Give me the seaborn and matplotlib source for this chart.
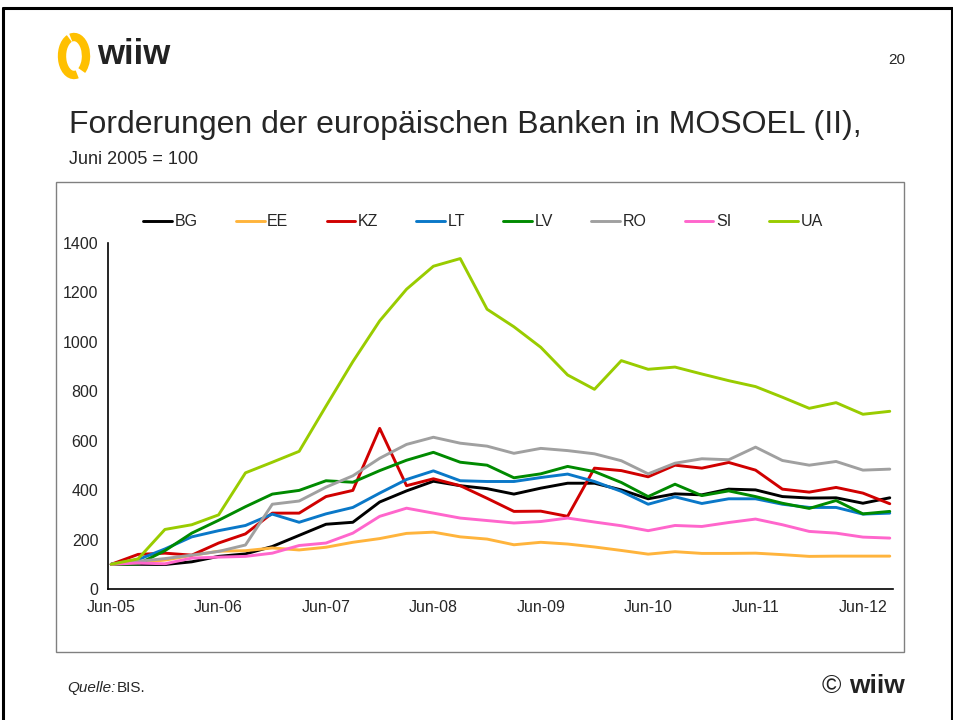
import matplotlib
matplotlib.use("Agg")
import numpy as np
import pandas as pd
import matplotlib.pyplot as plt
import seaborn as sns
from matplotlib.patches import Rectangle, Arc
from matplotlib.lines import Line2D

# quarterly index, Jun-05 .. Sep-12 (Juni 2005 = 100)
quarters = list(range(30))
tick_labels = ["Jun-05", "Jun-06", "Jun-07", "Jun-08", "Jun-09", "Jun-10", "Jun-11", "Jun-12"]

BG = [100, 100, 99, 110, 132, 142, 172, 217, 262, 270, 352, 397, 436, 418, 406,
      384, 408, 428, 428, 401, 365, 385, 381, 404, 401, 374, 368, 369, 347, 369]
EE = [100, 107, 117, 136, 153, 155, 166, 158, 169, 189, 204, 225, 230, 211, 202,
      179, 189, 182, 170, 156, 141, 151, 144, 144, 145, 139, 132, 133, 133, 133]
KZ = [100, 140, 145, 137, 186, 223, 307, 307, 374, 399, 650, 418, 446, 418, 367,
      314, 315, 294, 489, 479, 454, 501, 489, 512, 481, 404, 392, 411, 388, 345]
LT = [100, 119, 162, 211, 236, 257, 303, 270, 304, 330, 388, 443, 478, 438, 435,
      435, 451, 465, 435, 395, 343, 373, 346, 365, 365, 343, 330, 330, 303, 307]
LV = [100, 101, 155, 226, 278, 333, 384, 399, 438, 432, 479, 521, 553, 513, 501,
      450, 466, 496, 475, 431, 374, 424, 378, 397, 374, 347, 326, 358, 304, 314]
RO = [100, 112, 123, 137, 152, 178, 343, 356, 412, 458, 529, 585, 614, 590, 578,
      549, 569, 560, 547, 519, 466, 509, 527, 523, 574, 520, 501, 516, 481, 485]
SI = [100, 105, 102, 125, 129, 132, 145, 176, 186, 226, 294, 327, 307, 287, 277,
      267, 273, 287, 271, 256, 236, 257, 253, 269, 283, 260, 233, 226, 210, 206]
UA = [100, 122, 241, 260, 300, 470, 513, 557, 740, 920, 1085, 1213, 1306, 1337, 1132,
      1061, 978, 866, 808, 924, 889, 898, 870, 843, 819, 776, 731, 754, 707, 719]

countries = ["BG", "EE", "KZ", "LT", "LV", "RO", "SI", "UA"]
colors = {"BG": "#000000", "EE": "#FFB43C", "KZ": "#D00000", "LT": "#0A78C8",
          "LV": "#008A00", "RO": "#A0A0A0", "SI": "#FF66CC", "UA": "#99CC00"}

wide = pd.DataFrame({"q": quarters, "BG": BG, "EE": EE, "KZ": KZ, "LT": LT,
                     "LV": LV, "RO": RO, "SI": SI, "UA": UA})
df = wide.melt(id_vars="q", var_name="Land", value_name="Index")

sns.set_style("white")
plt.rcParams["font.family"] = ["Liberation Sans", "DejaVu Sans"]

W, H = 954, 720
fig = plt.figure(figsize=(W / 100, H / 100), dpi=100)

def fx(px):
    return px / W

def fy(py):
    return 1 - py / H

# slide frame
fig.add_artist(Line2D([fx(3), fx(952)], [fy(8), fy(8)], color="black", lw=2.2, transform=fig.transFigure))
fig.add_artist(Line2D([fx(3), fx(3)], [fy(8), 0], color="black", lw=2.2, transform=fig.transFigure))
fig.add_artist(Line2D([fx(952), fx(952)], [fy(8), 0], color="black", lw=2.2, transform=fig.transFigure))

# chart box
fig.add_artist(Rectangle((fx(56), fy(652)), fx(904) - fx(56), fy(182) - fy(652),
                         fill=False, edgecolor="#808080", lw=1, transform=fig.transFigure))

ax = fig.add_axes([fx(108), fy(589), fx(893) - fx(108), fy(243) - fy(589)])
sns.lineplot(data=df, x="q", y="Index", hue="Land", hue_order=countries,
             palette=colors, linewidth=2.1, ax=ax)
handles, labels = ax.get_legend_handles_labels()
ax.get_legend().remove()

ax.set_xlim(-0.12, 29.12)
ax.set_ylim(0, 1400)
ax.set_yticks(range(0, 1401, 200))
ax.set_xticks(range(0, 29, 4))
ax.set_xticklabels(tick_labels)
ax.set_xlabel("")
ax.set_ylabel("")
for s in ["top", "right"]:
    ax.spines[s].set_visible(False)
for s in ["left", "bottom"]:
    ax.spines[s].set_color("black")
    ax.spines[s].set_linewidth(1.2)
ax.tick_params(axis="both", direction="out", length=3, color="#808080",
               labelsize=11.5, width=1)
ax.tick_params(axis="y", pad=4)
ax.tick_params(axis="x", pad=5)
ax.set_facecolor("none")

fig.legend(handles, labels, loc="center", ncol=8, frameon=False, fontsize=11.5,
           bbox_to_anchor=(fx(483), fy(222)), handlelength=1.8, handletextpad=0.15,
           columnspacing=2.4)

# header
fig.text(fx(69), fy(125), "Forderungen der europäischen Banken in MOSOEL (II),",
         fontsize=23, va="center", ha="left")
fig.text(fx(69), fy(160), "Juni 2005 = 100", fontsize=13, va="center", ha="left")
fig.text(fx(905), fy(60), "20", fontsize=11, va="center", ha="right")

# logo
lax = fig.add_axes([fx(54), fy(86), fx(96) - fx(54), fy(28) - fy(86)])
lax.set_xlim(54, 96)
lax.set_ylim(86, 28)
lax.axis("off")
lax.add_patch(Arc((74, 56), 24, 38, theta1=80, theta2=255, color="#FFC000", lw=6))
lax.add_patch(Arc((74, 56), 24, 38, theta1=-100, theta2=62, color="#FFC000", lw=6))
fig.text(fx(97), fy(54), "wiiw", fontsize=25, fontweight="bold", va="center",
         ha="left", color="#222222")

# footer
fig.text(fx(67), fy(688), "Quelle:", fontsize=11, style="italic", va="center", ha="left")
fig.text(fx(117), fy(688), "BIS.", fontsize=11, va="center", ha="left")
fig.text(fx(905), fy(686), "wiiw", fontsize=19, fontweight="bold", va="center", ha="right",
         color="#222222")
fig.text(fx(831), fy(686), "©", fontsize=19, va="center", ha="center",
         color="#222222")

fig.savefig("out.png", dpi=100)
